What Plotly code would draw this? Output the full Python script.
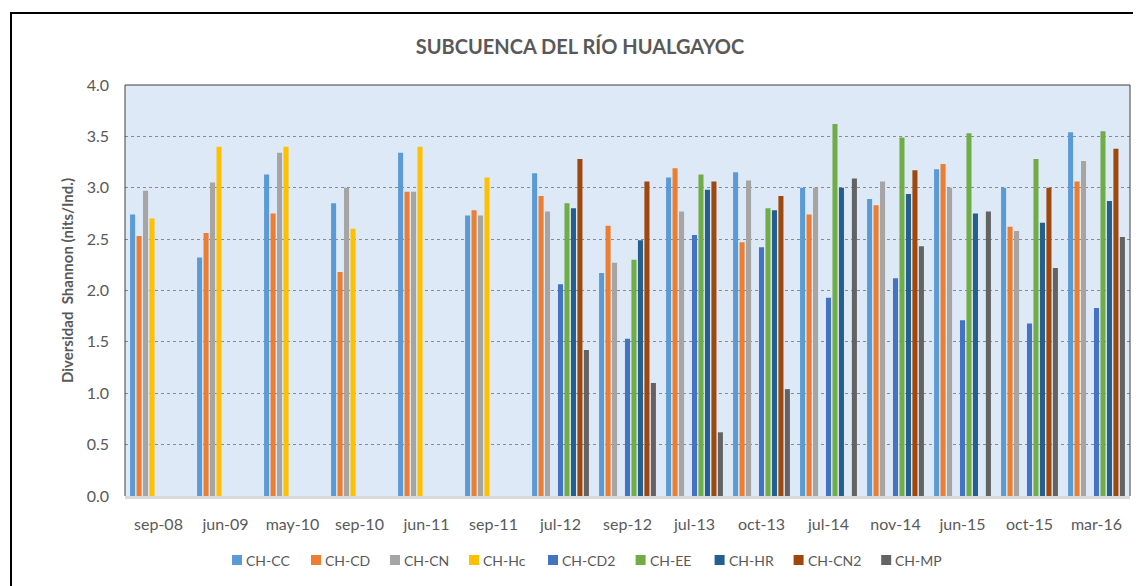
import plotly.graph_objects as go

categories = ["sep-08", "jun-09", "may-10", "sep-10", "jun-11", "sep-11", "jul-12", "sep-12",
              "jul-13", "oct-13", "jul-14", "nov-14", "jun-15", "oct-15", "mar-16"]

ch_cc  = [2.74, 2.32, 3.13, 2.85, 3.34, 2.73, 3.14, 2.17, 3.10, 3.15, 3.00, 2.89, 3.18, 3.00, 3.54]
ch_cd  = [2.53, 2.56, 2.75, 2.18, 2.96, 2.78, 2.92, 2.63, 3.19, 2.47, 2.74, 2.83, 3.23, 2.62, 3.06]
ch_cn  = [2.97, 3.05, 3.34, 3.00, 2.96, 2.73, 2.77, 2.27, 2.77, 3.07, 3.00, 3.06, 3.00, 2.58, 3.26]
ch_hc  = [2.70, 3.40, 3.40, 2.60, 3.40, 3.10, None, None, None, None, None, None, None, None, None]
ch_cd2 = [None, None, None, None, None, None, 2.06, 1.53, 2.54, 2.42, 1.93, 2.12, 1.71, 1.68, 1.83]
ch_ee  = [None, None, None, None, None, None, 2.85, 2.30, 3.13, 2.80, 3.62, 3.49, 3.53, 3.28, 3.55]
ch_hr  = [None, None, None, None, None, None, 2.80, 2.49, 2.98, 2.78, 3.00, 2.94, 2.75, 2.66, 2.87]
ch_cn2 = [None, None, None, None, None, None, 3.28, 3.06, 3.06, 2.92, None, 3.17, None, 3.00, 3.38]
ch_mp  = [None, None, None, None, None, None, 1.42, 1.10, 0.62, 1.04, 3.09, 2.43, 2.77, 2.22, 2.52]

series_names = ["CH-CC", "CH-CD", "CH-CN", "CH-Hc", "CH-CD2", "CH-EE", "CH-HR", "CH-CN2", "CH-MP"]
series_values = [ch_cc, ch_cd, ch_cn, ch_hc, ch_cd2, ch_ee, ch_hr, ch_cn2, ch_mp]
series_colors = ["#5b9bd5", "#ed7d31", "#a5a5a5", "#ffc000", "#4472c4",
                 "#70ad47", "#255e91", "#9e480e", "#636363"]

y_ticks = [0.0, 0.5, 1.0, 1.5, 2.0, 2.5, 3.0, 3.5, 4.0]

FONT = "Lato"
TXT = "#595959"

fig = go.Figure()
for name, vals, col in zip(series_names, series_values, series_colors):
    fig.add_trace(go.Bar(x=categories, y=vals, name=name, marker_color=col,
                         marker_line_width=0, showlegend=False))

# page is offset by the 8px body margin
OFF = 8
W, H = 1141 - OFF, 586 - OFF
# plot area in page pixels: x 125..1130, y 85..496
PL, PR, PT, PB = 125, 1130, 85, 496
L, R, T, B = PL - OFF, W - (PR - OFF), PT - OFF, H - (PB - OFF)
pw, ph = PR - PL, PB - PT

def px(x):
    return (x - PL) / pw

def py(y):
    return (PB - y) / ph

fig.update_layout(
    width=W, height=H,
    margin=dict(l=L, r=R, t=T, b=B, autoexpand=False),
    paper_bgcolor="white",
    plot_bgcolor="#dde9f6",
    barmode="group",
    bargap=0.13,
    bargroupgap=0.22,
    font=dict(family=FONT, size=16, color=TXT),
    title=dict(text="<b>SUBCUENCA DEL RÍO HUALGAYOC</b>", x=(580 - OFF) / W, xanchor="center",
               y=1 - (47 - OFF) / H, yanchor="middle", font=dict(family=FONT, size=20, color=TXT)),
    showlegend=False,
    xaxis=dict(type="category", showgrid=False, showline=True, linecolor="#d9d9d9",
               linewidth=3, ticks="", tickfont=dict(size=16, color=TXT),
               ticklabelstandoff=12),
    yaxis=dict(range=[0, 4.0], tickvals=y_ticks, ticktext=[f"{v:.1f}" for v in y_ticks],
               showgrid=True, gridcolor="#8a8a8a", gridwidth=1, griddash="dot",
               zeroline=False, showline=False, ticks="", tickfont=dict(size=16, color=TXT),
               ticklabelstandoff=15),
)

# y-axis title
fig.add_annotation(text="<b>Diversidad  Shannon (nits/Ind.)</b>", textangle=-90,
                   xref="paper", yref="paper", x=px(67), y=py(281),
                   xanchor="center", yanchor="middle", showarrow=False,
                   font=dict(family=FONT, size=15, color=TXT))

# legend drawn as swatches + text
leg_y = 560
x_cur = 232
for name, col in zip(series_names, series_colors):
    fig.add_shape(type="rect", xref="paper", yref="paper",
                  x0=px(x_cur), x1=px(x_cur + 10), y0=py(leg_y + 5), y1=py(leg_y - 5),
                  fillcolor=col, line=dict(width=0))
    fig.add_annotation(text=name, xref="paper", yref="paper", x=px(x_cur + 12), y=py(leg_y),
                       xanchor="left", yanchor="middle", showarrow=False,
                       font=dict(family=FONT, size=14, color=TXT))
    x_cur += 36 + 8.6 * len(name)

# plot-area frame (left, top, right)
fig.add_shape(type="path", xref="paper", yref="paper",
              path="M 0 0 L 0 1 L 1 1 L 1 0",
              line=dict(color="#404040", width=1), layer="above")
# outer chart border
fig.add_shape(type="rect", xref="paper", yref="paper",
              x0=px(11), x1=px(1170), y0=py(640), y1=py(13),
              line=dict(color="black", width=2), layer="above")

fig.write_html("out.html")
